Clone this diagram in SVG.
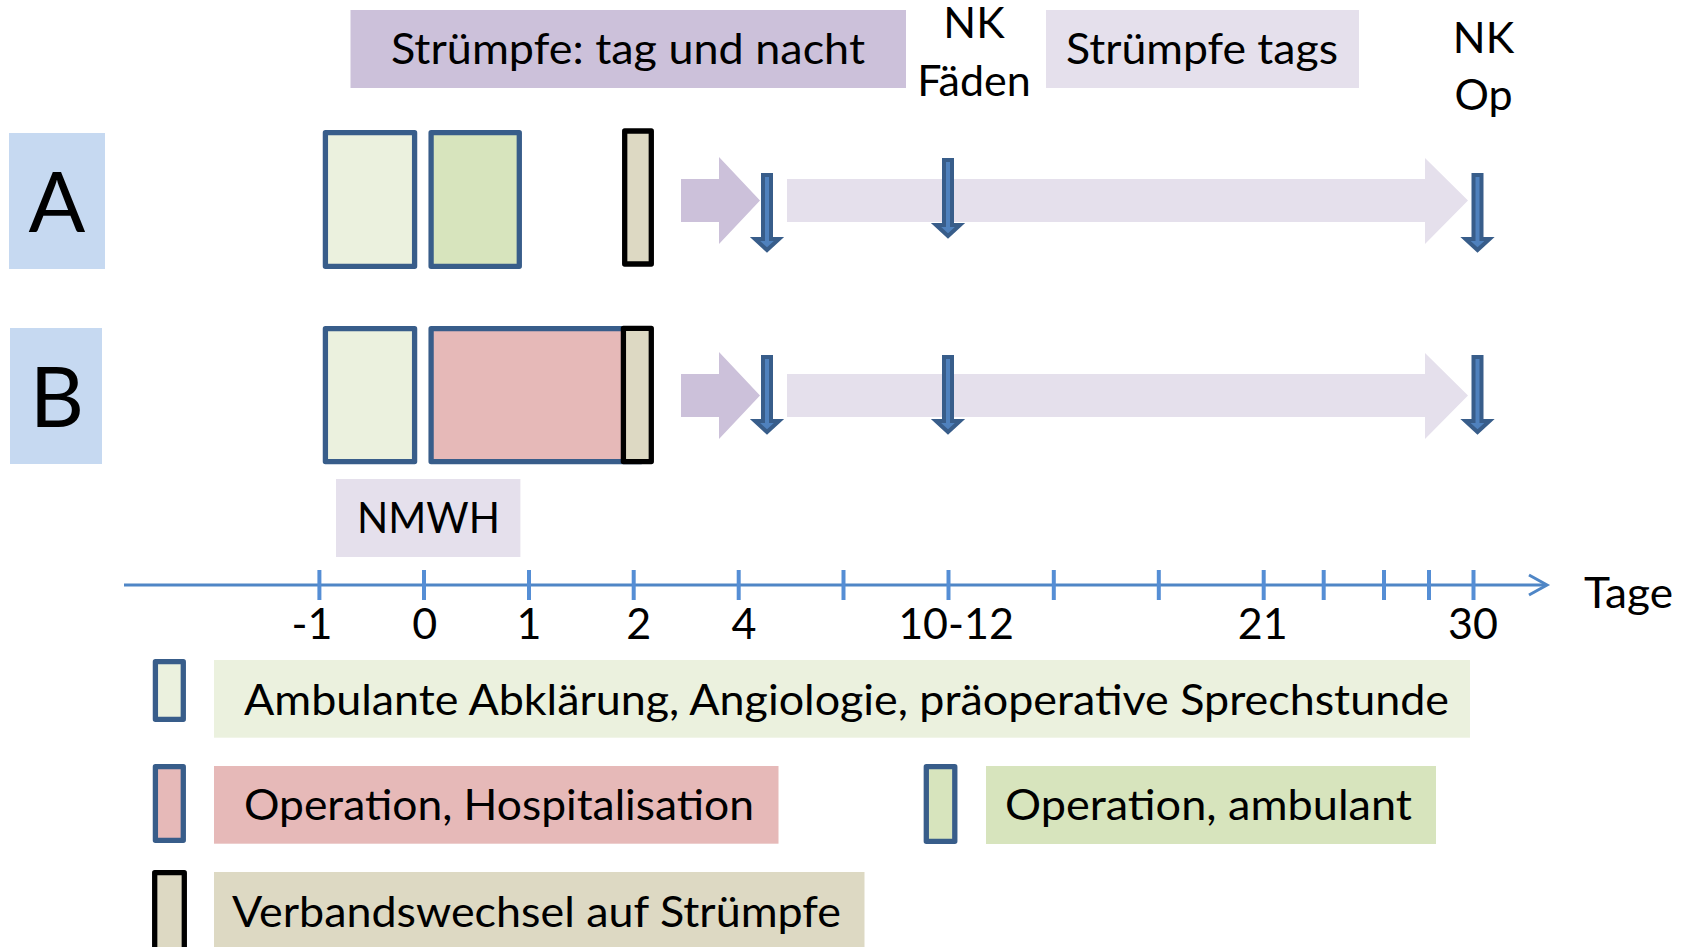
<svg xmlns="http://www.w3.org/2000/svg" width="1686" height="947" viewBox="0 0 1686 947">
<style>
text{font-family:Lato,"Open Sans","Liberation Sans",sans-serif;fill:#000}
.t{font-size:43px}
.big{font-size:84px;text-anchor:middle}
.mid{text-anchor:middle}
.bx{stroke:#385D8A;stroke-width:5.3;stroke-linejoin:round}
.bk{stroke:#000;stroke-width:5.3;stroke-linejoin:round;fill:#DDD9C3}
.da{fill:#4F81BD;stroke:#385D8A;stroke-width:4;stroke-linejoin:miter}
.ax{stroke:#4F86C6;stroke-width:3;fill:none}
.tk{stroke:#558ED5;stroke-width:4}
.p1{fill:#CCC1DA}
.p2{fill:#E5E0EC}
.g1{fill:#EBF1DE}
.g2{fill:#D7E4BD}
.pk{fill:#E6B9B8}
.tn{fill:#DDD9C3}
.lb{fill:#C6D9F1}
</style>

<g id="top-stockings-daynight">
<rect class="p1" x="350.5" y="10" width="555.5" height="78"/>
<text class="t" x="391" y="64" textLength="474" lengthAdjust="spacingAndGlyphs">Strümpfe: tag und nacht</text>
</g>
<g id="top-nk-faeden">
<text class="t mid" x="974" y="38">NK</text>
<text class="t mid" x="974" y="96">Fäden</text>
</g>
<g id="top-stockings-day">
<rect class="p2" x="1046" y="10" width="313" height="78"/>
<text class="t" x="1066" y="64" textLength="272" lengthAdjust="spacingAndGlyphs">Strümpfe tags</text>
</g>
<g id="top-nk-op">
<text class="t mid" x="1483.5" y="52.5">NK</text>
<text class="t mid" x="1483.5" y="110">Op</text>
</g>

<g id="label-A">
<rect class="lb" x="9" y="133" width="96" height="136"/>
<text class="big" x="57" y="232">A</text>
</g>
<g id="label-B">
<rect class="lb" x="10" y="328" width="92" height="136"/>
<text class="big" x="57" y="427">B</text>
</g>

<g id="A-ambulant-clarification">
<rect class="bx g1" x="325.4" y="132.7" width="89.2" height="133.6"/>
</g>
<g id="A-operation-ambulant">
<rect class="bx g2" x="431.1" y="132.7" width="88.2" height="133.6"/>
</g>
<g id="A-dressing-change">
<rect class="bk" x="624.7" y="131" width="26.6" height="133"/>
</g>

<g id="B-ambulant-clarification">
<rect class="bx g1" x="325.4" y="328.7" width="89.2" height="132.9"/>
</g>
<g id="B-operation-hospital">
<rect class="bx pk" x="431.1" y="328.7" width="210" height="132.9"/>
</g>
<g id="B-dressing-change">
<rect class="bk" x="623.4" y="328.4" width="27.9" height="133.2"/>
</g>

<g id="nmwh">
<rect class="p2" x="336" y="479" width="184.4" height="78"/>
<text class="t" x="357" y="533" textLength="143" lengthAdjust="spacingAndGlyphs">NMWH</text>
</g>

<g id="connectors">
<path class="p1" d="M681,179H719V157L760,200.5L719,244V222H681Z"/>
<path class="p2" d="M787,179H1425V158L1468,200.5L1425,244V222H787Z"/>
<path class="p1" d="M681,374H719V352L760,395.5L719,439V417H681Z"/>
<path class="p2" d="M787,374H1425V353L1468,395.5L1425,439V417H787Z"/>
<path class="da" d="M763,175H771V239H779L767,250L755,239H763Z"/>
<path class="da" d="M944,160H952V225H960L948,236L936,225H944Z"/>
<path class="da" d="M1473.5,175H1481.5V239H1489.5L1477.5,250L1465.5,239H1473.5Z"/>
<path class="da" d="M763,357H771V421H779L767,432L755,421H763Z"/>
<path class="da" d="M944,357H952V421H960L948,432L936,421H944Z"/>
<path class="da" d="M1473.5,357H1481.5V421H1489.5L1477.5,432L1465.5,421H1473.5Z"/>
</g>

<g id="axis">
<line class="ax" x1="124" y1="585" x2="1546" y2="585"/>
<polyline class="ax" points="1529,575 1547,585 1529,595"/>
<g class="tk">
<line x1="319.4" y1="570" x2="319.4" y2="600"/>
<line x1="424" y1="570" x2="424" y2="600"/>
<line x1="529" y1="570" x2="529" y2="600"/>
<line x1="633.7" y1="570" x2="633.7" y2="600"/>
<line x1="738.7" y1="570" x2="738.7" y2="600"/>
<line x1="843.5" y1="570" x2="843.5" y2="600"/>
<line x1="948.5" y1="570" x2="948.5" y2="600"/>
<line x1="1053.8" y1="570" x2="1053.8" y2="600"/>
<line x1="1158.8" y1="570" x2="1158.8" y2="600"/>
<line x1="1263.7" y1="570" x2="1263.7" y2="600"/>
<line x1="1323.7" y1="570" x2="1323.7" y2="600"/>
<line x1="1384" y1="570" x2="1384" y2="600"/>
<line x1="1429" y1="570" x2="1429" y2="600"/>
<line x1="1473.5" y1="570" x2="1473.5" y2="600"/>
</g>
<text class="t mid" x="312" y="639">-1</text>
<text class="t mid" x="424.7" y="639">0</text>
<text class="t mid" x="529" y="639">1</text>
<text class="t mid" x="638.7" y="639">2</text>
<text class="t mid" x="744" y="639">4</text>
<text class="t mid" x="956" y="639">10-12</text>
<text class="t mid" x="1262.8" y="639">21</text>
<text class="t mid" x="1473" y="639">30</text>
<text class="t" x="1584" y="607.7" textLength="89" lengthAdjust="spacingAndGlyphs">Tage</text>
</g>

<g id="legend-ambulant">
<rect class="bx g1" x="155.4" y="661.7" width="27.9" height="57.6"/>
<rect class="g1" x="214" y="660" width="1256" height="77.7"/>
<text class="t" x="244" y="715" textLength="1205" lengthAdjust="spacingAndGlyphs">Ambulante Abklärung, Angiologie, präoperative Sprechstunde</text>
</g>
<g id="legend-hospital">
<rect class="bx pk" x="155.4" y="766.7" width="27.9" height="73.6"/>
<rect class="pk" x="214" y="766" width="564.5" height="77.7"/>
<text class="t" x="244" y="820" textLength="510" lengthAdjust="spacingAndGlyphs">Operation, Hospitalisation</text>
</g>
<g id="legend-op-ambulant">
<rect class="bx g2" x="926.3" y="766.7" width="28.5" height="74.6"/>
<rect class="g2" x="986" y="766" width="450" height="78"/>
<text class="t" x="1005" y="820" textLength="407" lengthAdjust="spacingAndGlyphs">Operation, ambulant</text>
</g>
<g id="legend-dressing">
<rect class="bk" x="154.7" y="872.7" width="29.6" height="80"/>
<rect class="tn" x="214" y="872" width="650.5" height="75"/>
<text class="t" x="232" y="926.7" textLength="609" lengthAdjust="spacingAndGlyphs">Verbandswechsel auf Strümpfe</text>
</g>
</svg>
